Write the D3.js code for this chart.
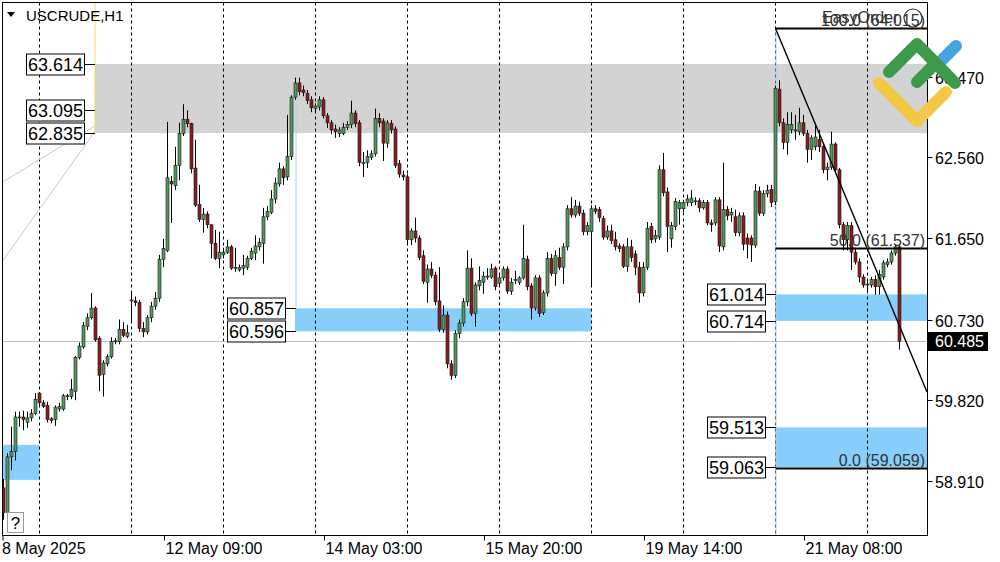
<!DOCTYPE html>
<html><head><meta charset="utf-8">
<script src="https://cdn.jsdelivr.net/npm/d3@7"></script>
<style>body{margin:0;background:#fff;overflow:hidden}text{font-family:"Liberation Sans",Arial,sans-serif}</style>
</head><body><svg id="c" width="1000" height="562"></svg>
<script>
// ---------------- DATA ----------------
const opens = [58.83,58.55,59.18,59.24,59.62,59.63,59.57,59.62,59.67,59.90,
59.79,59.76,59.61,59.60,59.72,59.72,59.86,59.86,59.92,60.30,
60.42,60.65,60.75,60.86,60.52,60.11,60.23,60.31,60.48,60.48,
60.62,60.54,60.94,60.94,60.92,60.63,60.59,60.75,60.88,60.97,
61.41,61.51,62.29,62.24,62.47,62.83,62.99,62.94,62.44,62.03,
61.86,61.92,61.80,61.59,61.42,61.46,61.49,61.55,61.31,61.29,
61.31,61.32,61.42,61.48,61.55,61.59,61.89,61.94,62.09,62.26,
62.43,62.34,62.57,63.24,63.40,63.32,63.28,63.21,63.11,63.13,
63.21,63.03,62.95,62.88,62.83,62.83,62.90,62.93,63.06,62.95,
62.49,62.50,62.56,62.60,63.00,62.97,62.72,62.94,62.88,62.49,
62.36,62.34,61.63,61.73,61.65,61.45,61.15,61.30,61.23,60.94,
60.62,60.78,60.23,60.10,60.57,60.69,60.93,61.31,60.80,61.11,
61.15,61.21,61.21,61.31,61.14,61.20,61.30,61.05,61.17,61.15,
61.20,61.41,61.11,60.86,61.20,60.81,61.03,61.42,61.25,61.43,
61.32,61.55,61.98,61.91,62.01,61.93,61.72,61.72,61.98,61.97,
61.87,61.66,61.73,61.63,61.56,61.55,61.33,61.55,61.47,61.32,
61.03,61.32,61.78,61.64,61.66,62.42,62.17,61.64,61.78,61.98,
61.98,62.05,62.05,62.06,62.07,61.99,62.05,61.82,61.82,62.08,
61.55,61.97,61.91,61.89,61.71,61.90,61.65,61.65,61.57,62.18,
61.93,62.15,62.20,62.06,63.33,62.95,62.73,62.87,62.86,62.85,
62.95,62.83,62.65,62.68,62.76,62.68,62.42,62.45,62.71,62.42,
61.80,61.63,61.79,61.49,61.38,61.21,61.12,61.12,61.18,61.10,
61.21,61.35,61.38,61.48,61.55];
const highs = [58.93,59.22,59.52,59.69,59.69,59.70,59.69,59.72,59.90,59.91,
59.82,59.80,59.63,59.76,59.79,59.89,59.89,60.06,60.32,60.47,
60.70,60.80,61.03,60.88,60.54,60.27,60.34,60.53,60.52,60.73,
60.70,60.67,61.03,60.99,60.95,60.70,60.78,60.93,61.04,61.46,
61.64,62.96,62.35,62.68,62.95,63.16,63.09,62.95,62.76,62.25,
61.99,61.95,61.80,61.74,61.72,61.54,61.63,61.57,61.54,61.35,
61.46,61.45,61.54,61.68,61.65,61.99,62.01,62.19,62.33,62.50,
62.46,63.04,63.26,63.46,63.46,63.37,63.32,63.25,63.17,63.25,
63.24,63.06,62.98,62.93,62.90,62.95,62.97,63.20,63.09,62.98,
62.62,62.64,62.64,63.11,63.06,63.00,62.98,62.98,62.91,62.53,
62.41,62.37,61.76,61.88,61.68,61.51,61.35,61.38,61.27,61.32,
60.89,60.82,60.27,60.61,60.73,60.97,61.51,61.42,61.15,61.33,
61.27,61.31,61.36,61.33,61.23,61.33,61.33,61.20,61.28,61.22,
61.80,61.45,61.14,61.23,61.23,61.06,61.49,61.47,61.51,61.54,
61.59,62.02,62.11,62.08,62.06,61.97,61.83,62.02,62.02,62.00,
61.90,61.79,61.80,61.72,61.59,61.58,61.65,61.63,61.51,61.38,
61.38,61.83,61.82,61.74,62.47,62.61,62.22,61.83,62.10,62.08,
62.08,62.14,62.19,62.11,62.10,62.08,62.08,61.86,62.11,62.11,
62.50,62.01,61.99,61.97,61.94,61.94,61.70,61.68,62.26,62.23,
62.19,62.25,62.25,63.37,63.43,63.00,63.07,63.07,63.04,63.12,
63.04,62.87,62.81,62.93,62.87,62.72,62.50,62.85,62.73,62.44,
61.83,61.83,61.83,61.54,61.42,61.24,61.18,61.21,61.23,61.29,
61.40,61.42,61.51,61.57,61.57];
const lows = [58.47,58.51,59.03,59.14,59.52,59.48,59.51,59.58,59.65,59.75,
59.73,59.57,59.56,59.53,59.69,59.70,59.82,59.83,59.82,60.28,
60.40,60.61,60.73,60.48,59.92,59.86,60.20,60.29,60.45,60.45,
60.53,60.52,60.69,60.88,60.59,60.53,60.56,60.70,60.84,60.93,
61.32,61.49,61.82,62.19,62.30,62.80,62.90,62.38,62.00,61.83,
61.71,61.76,61.42,61.40,61.31,61.42,61.47,61.29,61.27,61.27,
61.23,61.29,61.40,61.40,61.51,61.36,61.85,61.92,62.04,62.23,
62.25,62.30,62.53,63.21,63.26,63.25,63.16,63.07,63.06,63.09,
63.00,62.89,62.82,62.78,62.79,62.81,62.87,62.89,62.90,62.46,
62.34,62.44,62.53,62.57,62.90,62.52,62.67,62.83,62.44,62.33,
62.30,61.59,61.57,61.60,61.40,61.13,60.92,61.20,60.89,60.59,
60.58,60.18,60.05,60.07,60.52,60.65,60.88,60.77,60.65,61.06,
61.02,61.18,61.19,61.06,61.11,61.17,61.02,61.01,61.13,61.12,
61.18,61.06,60.73,60.83,60.76,60.78,60.99,61.22,61.11,61.29,
61.13,61.51,61.88,61.88,61.90,61.68,61.68,61.10,61.92,61.83,
61.63,61.63,61.58,61.51,61.49,61.31,61.27,61.38,61.23,60.92,
60.99,61.29,61.59,61.60,61.63,62.12,61.49,61.54,61.74,61.80,
61.94,62.01,62.01,62.02,61.94,61.97,61.79,61.72,61.79,61.49,
61.51,61.85,61.83,61.67,61.67,61.51,61.42,61.38,61.54,61.90,
61.90,62.11,62.00,62.02,62.91,62.65,62.59,62.83,62.76,62.81,
62.80,62.50,62.53,62.64,62.62,62.38,62.30,62.42,62.38,61.76,
61.51,61.51,61.29,61.35,61.15,61.09,61.04,61.09,61.01,61.01,
61.18,61.32,61.35,61.45,60.39];
const closes = [58.55,59.18,59.24,59.63,59.63,59.60,59.62,59.67,59.83,59.79,
59.75,59.60,59.59,59.74,59.75,59.87,59.87,59.94,60.30,60.43,
60.66,60.75,60.86,60.50,60.10,60.24,60.31,60.48,60.49,60.62,
60.55,60.58,60.95,60.92,60.63,60.59,60.75,60.88,60.97,61.41,
61.53,62.33,62.26,62.47,62.83,62.99,62.94,62.43,62.02,61.86,
61.92,61.80,61.59,61.42,61.49,61.49,61.55,61.31,61.32,61.32,
61.34,61.42,61.50,61.56,61.60,61.89,61.95,62.09,62.27,62.43,
62.33,62.57,63.24,63.40,63.30,63.29,63.20,63.12,63.14,63.21,
63.03,62.95,62.87,62.85,62.87,62.90,62.93,63.06,62.94,62.50,
62.50,62.57,62.60,63.00,62.95,62.72,62.95,62.87,62.47,62.37,
62.34,61.63,61.73,61.65,61.43,61.16,61.30,61.23,60.93,60.62,
60.78,60.23,60.10,60.57,60.69,60.93,61.31,60.80,61.12,61.17,
61.22,61.22,61.30,61.10,61.20,61.30,61.05,61.15,61.18,61.20,
61.42,61.10,60.86,61.20,60.80,61.03,61.42,61.25,61.45,61.32,
61.55,61.98,61.91,62.01,61.93,61.72,61.79,61.98,61.95,61.88,
61.66,61.73,61.62,61.55,61.53,61.33,61.55,61.43,61.32,61.03,
61.32,61.76,61.63,61.68,62.42,62.16,61.78,61.79,62.06,62.05,
62.05,62.09,62.10,62.07,61.99,62.05,61.82,61.80,62.08,61.56,
61.97,61.90,61.94,61.71,61.90,61.58,61.58,61.57,62.18,61.93,
62.15,62.19,62.05,63.34,62.95,62.73,62.93,62.93,62.87,62.95,
62.83,62.65,62.78,62.79,62.68,62.42,62.45,62.71,62.42,61.80,
61.63,61.79,61.49,61.38,61.21,61.12,61.13,61.18,61.10,61.24,
61.37,61.38,61.48,61.55,60.485];

const priceTicks = [63.470, 62.560, 61.650, 60.730, 59.820, 58.910];
const lastPrice = 60.485;
const daySeparators = [9, 32, 55, 78, 101, 124, 147, 170, 193, 216];
const timeLabels = [
  {bar: 0,   text: "8 May 2025"},
  {bar: 40,  text: "12 May 09:00"},
  {bar: 80,  text: "14 May 03:00"},
  {bar: 120, text: "15 May 20:00"},
  {bar: 160, text: "19 May 14:00"},
  {bar: 200, text: "21 May 08:00"}
];
const grayZone = {start: 23, top: 63.614, mid: 63.095, bottom: 62.835};
const blueZones = [
  {start: -1, end: 9,   top: 59.315, bottom: 58.92, labels: false},
  {start: 73, end: 147, top: 60.857, bottom: 60.596, labels: true},
  {start: 193, end: null, top: 61.014, bottom: 60.714, labels: true},
  {start: 193, end: null, top: 59.513, bottom: 59.063, labels: true}
];
const fibStart = 193;
const fibLevels = [{lvl: "100.0", price: 64.015}, {lvl: "50.0", price: 61.537}, {lvl: "0.0", price: 59.059}];
const trendLine = [[193, 64.015], [230.9, 59.91]];
const fanLines = [[[-0.6, 62.27], [23, 62.92]], [[-0.6, 61.37], [23, 62.86]]];
const pivotLine = {bar: 73, from: 63.24, to: 60.857};

// ---------------- CHART ----------------
const svg = d3.select('#c');
const PL = 2.5, PR = 927.5, PT = 2.5, PB = 535.5;
const x = d3.scaleLinear().domain([0, 224]).range([3.5, 899.5]);
const y = d3.scaleLinear().domain([58.298, 64.336]).range([535, 0]);

svg.append('defs').append('clipPath').attr('id', 'plot')
  .append('rect').attr('x', PL).attr('y', PT).attr('width', PR - PL).attr('height', PB - PT);
const g = svg.append('g').attr('clip-path', 'url(#plot)');

g.append('rect').attr('x', x(grayZone.start) - 0.5).attr('y', y(grayZone.top))
  .attr('width', PR - x(grayZone.start) + 0.5).attr('height', y(grayZone.bottom) - y(grayZone.top))
  .attr('fill', '#d3d3d3');
blueZones.forEach(z => {
  const x0 = Math.max(PL, x(z.start) - 0.5);
  const x1 = z.end === null ? PR : x(z.end);
  g.append('rect').attr('x', x0).attr('y', y(z.top)).attr('width', x1 - x0)
    .attr('height', y(z.bottom) - y(z.top)).attr('fill', '#87cefa');
});

g.selectAll('line.sep').data(daySeparators).join('line')
  .attr('x1', d => x(d)).attr('x2', d => x(d)).attr('y1', PT).attr('y2', PB)
  .attr('stroke', '#000').attr('stroke-width', 1).attr('stroke-dasharray', '3,3');

fanLines.forEach(l => {
  g.append('line').attr('x1', x(l[0][0])).attr('y1', y(l[0][1])).attr('x2', x(l[1][0])).attr('y2', y(l[1][1]))
    .attr('stroke', '#c8c8c8').attr('stroke-width', 1);
});
g.append('line').attr('x1', x(grayZone.start) - 0.5).attr('x2', x(grayZone.start) - 0.5)
  .attr('y1', PT).attr('y2', y(grayZone.bottom)).attr('stroke', '#f0dc64').attr('stroke-width', 1);
g.append('line').attr('x1', x(pivotLine.bar) + 0.5).attr('x2', x(pivotLine.bar) + 0.5)
  .attr('y1', y(pivotLine.from)).attr('y2', y(pivotLine.to)).attr('stroke', '#a8d0ea');
g.append('line').attr('x1', x(fibStart) + 0.5).attr('x2', x(fibStart) + 0.5)
  .attr('y1', y(fibLevels[0].price)).attr('y2', PB).attr('stroke', '#a8d0ea');
g.append('line').attr('x1', PL).attr('x2', PR).attr('y1', Math.round(y(lastPrice)) + 0.5).attr('y2', Math.round(y(lastPrice)) + 0.5)
  .attr('stroke', '#c0c0c0');

const bars = opens.map((o, i) => ({i, o, h: highs[i], l: lows[i], c: closes[i]}));
const cg = g.append('g');
cg.selectAll('line.wick').data(bars).join('line')
  .attr('x1', d => x(d.i)).attr('x2', d => x(d.i))
  .attr('y1', d => y(d.h)).attr('y2', d => y(d.l))
  .attr('stroke', '#000').attr('stroke-width', 1);
cg.selectAll('rect.body').data(bars).join('rect')
  .attr('x', d => x(d.i) - 1.5)
  .attr('y', d => y(Math.max(d.o, d.c)))
  .attr('width', 3)
  .attr('height', d => Math.max(1, Math.abs(y(d.o) - y(d.c))))
  .attr('fill', d => d.c >= d.o ? '#4f9a5c' : '#8e1b1b')
  .attr('stroke', '#1a1a1a').attr('stroke-width', 0.6);

fibLevels.forEach(f => {
  const yy = Math.round(y(f.price)) + 0.5;
  g.append('line').attr('x1', x(fibStart)).attr('x2', PR).attr('y1', yy).attr('y2', yy)
    .attr('stroke', '#000').attr('stroke-width', 1.8);
  g.append('text').attr('x', 925).attr('y', yy - 2.5).attr('text-anchor', 'end')
    .attr('font-size', 16).attr('fill', '#333').text(`${f.lvl} (${f.price.toFixed(3)})`);
});
g.append('line').attr('x1', x(trendLine[0][0])).attr('y1', y(trendLine[0][1]))
  .attr('x2', x(trendLine[1][0])).attr('y2', y(trendLine[1][1]))
  .attr('stroke', '#000').attr('stroke-width', 1.4);
g.append('text').attr('x', 822).attr('y', 23).attr('font-size', 16).attr('fill', '#333').text('EasyOrder');
g.append('circle').attr('cx', 913).attr('cy', 18).attr('r', 9).attr('fill', 'none').attr('stroke', '#333').attr('stroke-width', 1.2);

function levelLabel(price, zoneLeft) {
  const yy = Math.round(y(price)) + 0.5;
  svg.append('line').attr('x1', zoneLeft - 10).attr('x2', zoneLeft).attr('y1', yy).attr('y2', yy).attr('stroke', '#000');
  svg.append('rect').attr('x', zoneLeft - 68.5).attr('y', yy - 10.5).attr('width', 58).attr('height', 21)
    .attr('fill', '#fff').attr('stroke', '#000').attr('stroke-width', 1);
  svg.append('text').attr('x', zoneLeft - 39.5).attr('y', yy + 6.5).attr('text-anchor', 'middle')
    .attr('font-size', 18).attr('fill', '#000').text(price.toFixed(3));
}
[grayZone.top, grayZone.mid, grayZone.bottom].forEach(p => levelLabel(p, x(grayZone.start) - 0.5));
blueZones.filter(z => z.labels).forEach(z => {
  levelLabel(z.top, x(z.start) + 0.5);
  levelLabel(z.bottom, x(z.start) + 0.5);
});

svg.append('path').attr('d', 'M7,12 L15,12 L11,17 Z').attr('fill', '#000');
svg.append('text').attr('x', 26).attr('y', 21).attr('font-size', 15).attr('fill', '#000').text('USCRUDE,H1');
svg.append('rect').attr('x', 7.5).attr('y', 512.5).attr('width', 16).attr('height', 20).attr('fill', '#fff').attr('stroke', '#999');
svg.append('text').attr('x', 15.5).attr('y', 529).attr('text-anchor', 'middle').attr('font-size', 17).text('?');

svg.append('rect').attr('x', PL).attr('y', PT).attr('width', PR - PL).attr('height', PB - PT)
  .attr('fill', 'none').attr('stroke', '#000').attr('stroke-width', 1);

priceTicks.forEach(p => {
  const yy = Math.round(y(p)) + 0.5;
  svg.append('line').attr('x1', PR).attr('x2', PR + 5).attr('y1', yy).attr('y2', yy).attr('stroke', '#000');
  svg.append('text').attr('x', 935).attr('y', yy + 6).attr('font-size', 16).attr('fill', '#000').text(p.toFixed(3));
});
const ly = Math.round(y(lastPrice));
svg.append('rect').attr('x', 928).attr('y', ly - 9).attr('width', 60).attr('height', 19).attr('fill', '#000');
svg.append('text').attr('x', 935).attr('y', ly + 6).attr('font-size', 16).attr('fill', '#fff').text(lastPrice.toFixed(3));

timeLabels.forEach(t => {
  const xx = t.bar === 0 ? 3 : Math.round(x(t.bar)) + 0.5;
  svg.append('line').attr('x1', xx).attr('x2', xx).attr('y1', PB).attr('y2', PB + 5).attr('stroke', '#000');
  svg.append('text').attr('x', xx + (t.bar === 0 ? -1 : 1)).attr('y', 554).attr('font-size', 16).attr('fill', '#000').text(t.text);
});

const lg = svg.append('g').attr('fill', 'none').attr('stroke-linecap', 'round').attr('stroke-linejoin', 'round').attr('stroke-width', 12);
lg.append('path').attr('d', 'M879,83 L917,121 L946,92').attr('stroke', '#f3c846');
lg.append('path').attr('d', 'M942,60 L956,46').attr('stroke', '#45a3e0');
lg.append('path').attr('d', 'M889,72 L917,44 L955,83').attr('stroke', '#3d9a4b');
lg.append('path').attr('d', 'M917,82 L935,64').attr('stroke', '#3d9a4b');
</script></body></html>
